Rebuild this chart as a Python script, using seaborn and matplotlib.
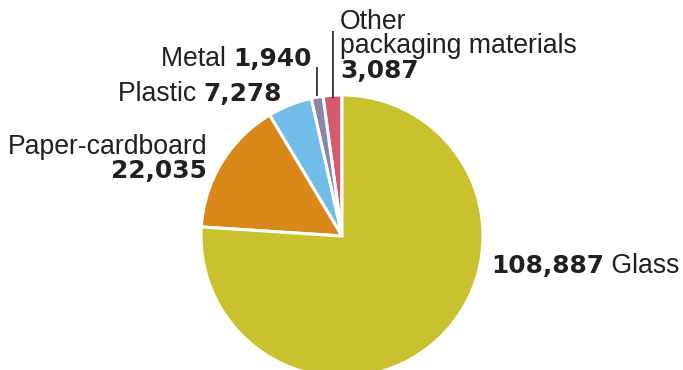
import matplotlib
matplotlib.use("Agg")
import matplotlib.pyplot as plt
import seaborn as sns

sns.set_theme(style="white")
plt.rcParams["font.family"] = ["Liberation Sans", "DejaVu Sans"]

# Packaging waste by material (tonnes)
categories = ["Other packaging materials", "Metal", "Plastic", "Paper-cardboard", "Glass"]
values = [3087, 1940, 7278, 22035, 108887]
colors = ["#D45A6E", "#8986A8", "#72BDE8", "#D98819", "#C9C22E"]

TXT = "#231F20"
FS = 19.2      # regular labels
FSB = 17.9     # bold figures
NUM = dict(fontsize=FSB, fontweight="bold", family="DejaVu Sans", color=TXT)
LAB = dict(fontsize=FS, color=TXT)

fig = plt.figure(figsize=(6.83, 3.70), dpi=100)
ax = fig.add_axes([0, 0, 1, 1])

cx, cy, r = 342, 370 - 236, 141
ax.pie(values, colors=colors, startangle=90, counterclock=True,
       center=(cx, cy), radius=r, frame=True,
       wedgeprops=dict(edgecolor="white", linewidth=2.2))
ax.set_xlim(0, 683)
ax.set_ylim(0, 370)
ax.set_aspect("equal")
ax.axis("off")

fmt = {c: f"{v:,}" for c, v in zip(categories, values)}


def Y(py):
    return 370 - py


# Glass: number then name, to the right of the pie
t = ax.text(491, Y(266), fmt["Glass"], ha="left", va="center", **NUM)
ax.annotate(" Glass", xy=(1, 0.5), xycoords=t, ha="left", va="center", **LAB)

# Paper-cardboard: two right-aligned lines
ax.text(207, Y(147), "Paper-cardboard", ha="right", va="center", **LAB)
ax.text(207, Y(171), fmt["Paper-cardboard"], ha="right", va="center", **NUM)

# Plastic and Metal: name followed by bold number, right-aligned
for name, xr, yc in [("Plastic", 282, 94), ("Metal", 312, 59)]:
    t = ax.text(xr, Y(yc), fmt[name], ha="right", va="center", **NUM)
    ax.annotate(name + " ", xy=(0, 0.5), xycoords=t, ha="right", va="center", **LAB)

# Other packaging materials: three left-aligned lines
ax.text(340, Y(22), "Other", ha="left", va="center", **LAB)
ax.text(340, Y(46), "packaging materials", ha="left", va="center", **LAB)
ax.text(340, Y(71), fmt["Other packaging materials"], ha="left", va="center", **NUM)

# Leader lines for the two thin slices
ax.plot([317, 317], [Y(67), Y(96)], color=TXT, lw=1.2, solid_capstyle="butt")
ax.plot([333, 333], [Y(31), Y(98)], color=TXT, lw=1.2, solid_capstyle="butt")

fig.savefig("out.png", dpi=100, facecolor="white")
